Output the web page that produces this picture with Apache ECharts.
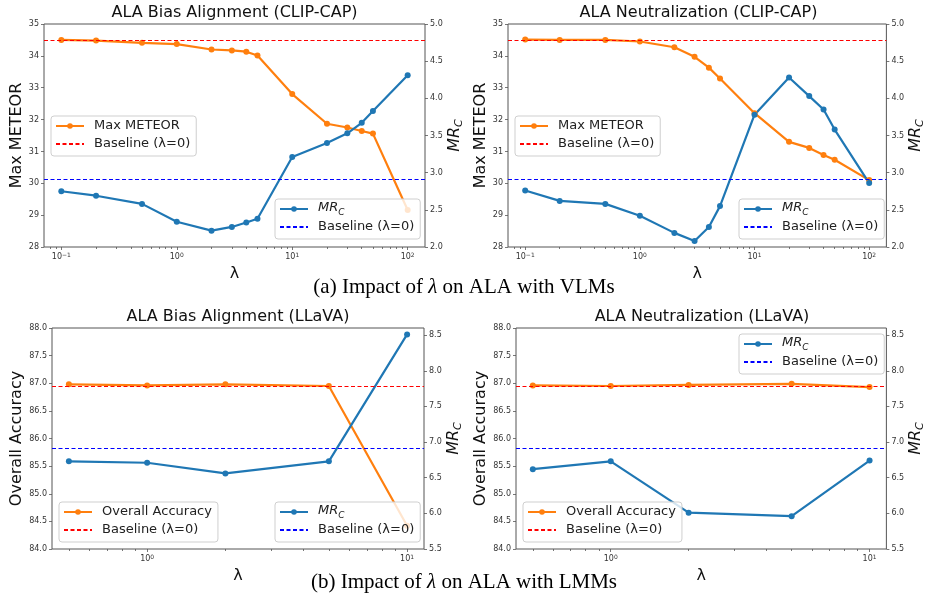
<!DOCTYPE html>
<html>
<head>
<meta charset="utf-8">
<script src="https://cdn.jsdelivr.net/npm/echarts@6/dist/echarts.min.js"></script>
<style>
  html, body { margin: 0; padding: 0; background: #fff; }
  #chart { width: 927px; height: 600px; }
</style>
</head>
<body>
<div id="chart"></div>
<script>
// lambda values
var lambdaVLM = [0.1, 0.2, 0.5, 1, 2, 3, 4, 5, 10, 20, 30, 40, 50, 100];
var lambdaLMM = [0.5, 1, 2, 5, 10];

// (a) CLIP-CAP
var meteorBias = [34.50, 34.48, 34.41, 34.37, 34.20, 34.17, 34.13, 34.01, 32.80, 31.87, 31.75, 31.64, 31.56, 29.16];
var mrcBiasVLM = [2.75, 2.69, 2.58, 2.34, 2.22, 2.27, 2.33, 2.38, 3.21, 3.40, 3.53, 3.67, 3.83, 4.31];
var meteorNeutral = [34.51, 34.50, 34.50, 34.45, 34.27, 33.97, 33.63, 33.29, 32.20, 31.30, 31.11, 30.89, 30.74, 30.10];
var mrcNeutralVLM = [2.76, 2.62, 2.58, 2.42, 2.19, 2.08, 2.27, 2.55, 3.78, 4.28, 4.03, 3.85, 3.58, 2.86];
var meteorBaseline = 34.5;
var mrcBaselineVLM = 2.91;

// (b) LLaVA
var accBias = [86.98, 86.96, 86.98, 86.95, 84.42];
var mrcBiasLMM = [6.73, 6.71, 6.56, 6.73, 8.51];
var accNeutral = [86.96, 86.95, 86.97, 86.99, 86.93];
var mrcNeutralLMM = [6.62, 6.73, 6.01, 5.96, 6.74];
var accBaseline = 86.95;
var mrcBaselineLMM = 6.92;

// tick values
var majorVLM = [0.1, 1, 10, 100];
var minorVLM = [0.08, 0.09, 0.2, 0.3, 0.4, 0.5, 0.6, 0.7, 0.8, 0.9, 2, 3, 4, 5, 6, 7, 8, 9, 20, 30, 40, 50, 60, 70, 80, 90];
var majorLMM = [1, 10];
var minorLMM = [0.5, 0.6, 0.7, 0.8, 0.9, 2, 3, 4, 5, 6, 7, 8, 9];
var leftTicksVLM = [28, 29, 30, 31, 32, 33, 34, 35];
var rightTicksVLM = [2.0, 2.5, 3.0, 3.5, 4.0, 4.5, 5.0];
var leftTicksLMM = [84.0, 84.5, 85.0, 85.5, 86.0, 86.5, 87.0, 87.5, 88.0];
var rightTicksLMM = [5.5, 6.0, 6.5, 7.0, 7.5, 8.0, 8.5];

var FONT = 'DejaVu Sans';
var ORANGE = '#ff7f0e', BLUE = '#1f77b4';
var SPINE = '#555';

var panels = [
  { title: 'ALA Bias Alignment (CLIP-CAP)', grid: [44, 24, 381, 223], x: lambdaVLM,
    xRange: [Math.pow(10, -1.15), Math.pow(10, 2.15)], major: majorVLM, minor: minorVLM,
    yName: 'Max METEOR', yLeft: [28, 35], leftTicks: leftTicksVLM, leftDigits: 0,
    yRight: [2, 5], rightTicks: rightTicksVLM, main: meteorBias, mainLabel: 'Max METEOR', mainBase: meteorBaseline,
    mrc: mrcBiasVLM, mrcBase: mrcBaselineVLM, leg1: [51, 116], leg2: [275, 199], nameGapL: 19 },
  { title: 'ALA Neutralization (CLIP-CAP)', grid: [508, 24, 381, 223], x: lambdaVLM,
    xRange: [Math.pow(10, -1.15), Math.pow(10, 2.15)], major: majorVLM, minor: minorVLM,
    yName: 'Max METEOR', yLeft: [28, 35], leftTicks: leftTicksVLM, leftDigits: 0,
    yRight: [2, 5], rightTicks: rightTicksVLM, main: meteorNeutral, mainLabel: 'Max METEOR', mainBase: meteorBaseline,
    mrc: mrcNeutralVLM, mrcBase: mrcBaselineVLM, leg1: [515, 116], leg2: [739, 199], nameGapL: 19 },
  { title: 'ALA Bias Alignment (LLaVA)', grid: [52, 328, 372, 221], x: lambdaLMM,
    xRange: [Math.pow(10, -0.366), Math.pow(10, 1.065)], major: majorLMM, minor: minorLMM,
    yName: 'Overall Accuracy', yLeft: [84, 88], leftTicks: leftTicksLMM, leftDigits: 1,
    yRight: [5.5, 8.6], rightTicks: rightTicksLMM, main: accBias, mainLabel: 'Overall Accuracy', mainBase: accBaseline,
    mrc: mrcBiasLMM, mrcBase: mrcBaselineLMM, leg1: [59, 502], leg2: [275, 502], nameGapL: 27 },
  { title: 'ALA Neutralization (LLaVA)', grid: [516, 328, 372, 221], x: lambdaLMM,
    xRange: [Math.pow(10, -0.366), Math.pow(10, 1.065)], major: majorLMM, minor: minorLMM,
    yName: 'Overall Accuracy', yLeft: [84, 88], leftTicks: leftTicksLMM, leftDigits: 1,
    yRight: [5.5, 8.6], rightTicks: rightTicksLMM, main: accNeutral, mainLabel: 'Overall Accuracy', mainBase: accBaseline,
    mrc: mrcNeutralLMM, mrcBase: mrcBaselineLMM, leg1: [523, 502], leg2: [739, 334], nameGapL: 27 }
];

var labels = {};
var subRich = {
  m: { fontFamily: FONT, fontStyle: 'italic', fontSize: 13, lineHeight: 16, verticalAlign: 'top', color: '#222' },
  s: { fontFamily: FONT, fontStyle: 'italic', fontSize: 9, lineHeight: 9, padding: [7, 0, 0, 0], verticalAlign: 'top', color: '#222' }
};

function pairs(xs, ys) {
  return xs.map(function (v, k) { return [v, ys[k]]; });
}

function logLabel(v) {
  var n = Math.round(Math.log10(v));
  return '{b|10}{e|' + (n < 0 ? '\u2212' + (-n) : n) + '}';
}

var grids = [], xAxes = [], yAxes = [], series = [], legends = [], titles = [];

panels.forEach(function (p, i) {
  var g = p.grid;
  grids.push({ left: g[0], top: g[1], width: g[2], height: g[3], show: true,
    borderColor: SPINE, borderWidth: 1, backgroundColor: 'transparent', containLabel: false });

  titles.push({ text: p.title, left: g[0] + g[2] / 2, top: g[1] - 19, textAlign: 'center', padding: 0,
    textStyle: { fontFamily: FONT, fontSize: 16, fontWeight: 'normal', color: '#111' } });

  var tickStyle = { color: SPINE, width: 0.8 };
  xAxes.push({
    type: 'log', logBase: 10, gridIndex: i, position: 'bottom', min: p.xRange[0], max: p.xRange[1],
    axisLine: { show: false }, splitLine: { show: false },
    axisTick: { show: true, length: 3, lineStyle: tickStyle, customValues: p.major },
    axisLabel: { customValues: p.major, formatter: logLabel, margin: 5, color: '#333',
      rich: {
        b: { fontFamily: FONT, fontSize: 8, lineHeight: 9, padding: [3, 0, 0, 0], verticalAlign: 'bottom', color: '#333' },
        e: { fontFamily: FONT, fontSize: 6, lineHeight: 6, verticalAlign: 'top', color: '#333' }
      } },
    name: '\u03bb', nameLocation: 'middle', nameGap: 19,
    nameTextStyle: { fontFamily: FONT, fontSize: 16, color: '#111' }
  });
  xAxes.push({
    type: 'log', logBase: 10, gridIndex: i, position: 'bottom', min: p.xRange[0], max: p.xRange[1],
    axisLine: { show: false }, splitLine: { show: false }, axisLabel: { show: false },
    axisTick: { show: true, length: 2, lineStyle: tickStyle, customValues: p.minor }
  });

  yAxes.push({
    type: 'value', gridIndex: i, position: 'left', min: p.yLeft[0], max: p.yLeft[1],
    axisLine: { show: false }, splitLine: { show: false },
    axisTick: { show: true, length: 3, lineStyle: tickStyle, customValues: p.leftTicks },
    axisLabel: { customValues: p.leftTicks, margin: 5, fontFamily: FONT, fontSize: 8, color: '#333',
      formatter: (function (d) { return function (v) { return Number(v).toFixed(d); }; })(p.leftDigits) },
    name: p.yName, nameLocation: 'middle', nameRotate: 90, nameGap: p.nameGapL,
    nameTextStyle: { fontFamily: FONT, fontSize: 16, color: '#111' }
  });
  yAxes.push({
    type: 'value', gridIndex: i, position: 'right', min: p.yRight[0], max: p.yRight[1],
    axisLine: { show: false }, splitLine: { show: false },
    axisTick: { show: true, length: 3, lineStyle: tickStyle, customValues: p.rightTicks },
    axisLabel: { customValues: p.rightTicks, margin: 5, fontFamily: FONT, fontSize: 8, color: '#333',
      formatter: function (v) { return Number(v).toFixed(1); } },
    name: '{m|MR}{s|C}', nameLocation: 'middle', nameRotate: 90, nameGap: 20,
    nameTextStyle: { fontFamily: FONT, fontSize: 16, color: '#111',
      rich: {
        m: { fontFamily: FONT, fontStyle: 'italic', fontSize: 16, lineHeight: 16, verticalAlign: 'top', color: '#111' },
        s: { fontFamily: FONT, fontStyle: 'italic', fontSize: 11, lineHeight: 11, padding: [7, 0, 0, 0], verticalAlign: 'top', color: '#111' }
      } }
  });

  var nMain = 'p' + i + 'main', nBase = 'p' + i + 'base', nMrc = 'p' + i + 'mrc', nMrcBase = 'p' + i + 'mrcbase';
  labels[nMain] = p.mainLabel;
  labels[nBase] = 'Baseline (\u03bb=0)';
  labels[nMrc] = '{m|MR}{s|C}';
  labels[nMrcBase] = 'Baseline (\u03bb=0)';

  function dashed(color) {
    return { color: color, width: 1.2, type: [4, 2.5] };
  }
  function baseSeries(name, yIdx, value, color) {
    return {
      name: name, type: 'line', xAxisIndex: 2 * i, yAxisIndex: yIdx, data: [], symbol: 'none',
      lineStyle: dashed(color), itemStyle: { color: color }, z: 1,
      markLine: { silent: true, symbol: ['none', 'none'], label: { show: false }, animation: false,
        lineStyle: dashed(color), emphasis: { disabled: true }, data: [{ yAxis: value }] }
    };
  }
  function mainSeries(name, yIdx, data, color) {
    return {
      name: name, type: 'line', xAxisIndex: 2 * i, yAxisIndex: yIdx, data: pairs(p.x, data),
      symbol: 'circle', symbolSize: 6, showSymbol: true, animation: false,
      lineStyle: { color: color, width: 2.2 }, itemStyle: { color: color }, z: 2
    };
  }
  series.push(mainSeries(nMain, 2 * i, p.main, ORANGE));
  series.push(baseSeries(nBase, 2 * i, p.mainBase, '#ff0000'));
  series.push(mainSeries(nMrc, 2 * i + 1, p.mrc, BLUE));
  series.push(baseSeries(nMrcBase, 2 * i + 1, p.mrcBase, '#0000ff'));

  function legend(pos, names) {
    return {
      orient: 'vertical', left: pos[0], top: pos[1], selectedMode: false,
      data: [{ name: names[0] }, { name: names[1], itemStyle: { opacity: 0 } }],
      itemWidth: 28, itemHeight: 7, itemGap: 2, padding: [2, 6, 4, 4],
      backgroundColor: 'rgba(255,255,255,0.8)', borderColor: '#cfcfcf', borderWidth: 1, borderRadius: 3,
      formatter: function (n) { return labels[n]; }, z: 10,
      textStyle: { fontFamily: FONT, fontSize: 13, lineHeight: 16, color: '#222', padding: [0, 0, 0, 5], rich: subRich }
    };
  }
  legends.push(legend(p.leg1, [nMain, nBase]));
  legends.push(legend(p.leg2, [nMrc, nMrcBase]));
});

var captionRich = {
  r: { fontFamily: 'Liberation Serif', fontSize: 21, fill: '#000' },
  i: { fontFamily: 'Liberation Serif', fontSize: 21, fontStyle: 'italic', fill: '#000' }
};

var chart = echarts.init(document.getElementById('chart'), null, { renderer: 'canvas' });
chart.setOption({
  animation: false,
  backgroundColor: '#fff',
  title: titles,
  grid: grids,
  xAxis: xAxes,
  yAxis: yAxes,
  legend: legends,
  series: series,
  graphic: [
    { type: 'text', x: 464, y: 287, style: { text: '{r|(a) Impact of }{i|\u03bb}{r| on ALA with VLMs}', rich: captionRich, align: 'center', verticalAlign: 'middle' } },
    { type: 'text', x: 464, y: 582, style: { text: '{r|(b) Impact of }{i|\u03bb}{r| on ALA with LMMs}', rich: captionRich, align: 'center', verticalAlign: 'middle' } }
  ]
});
</script>
</body>
</html>
